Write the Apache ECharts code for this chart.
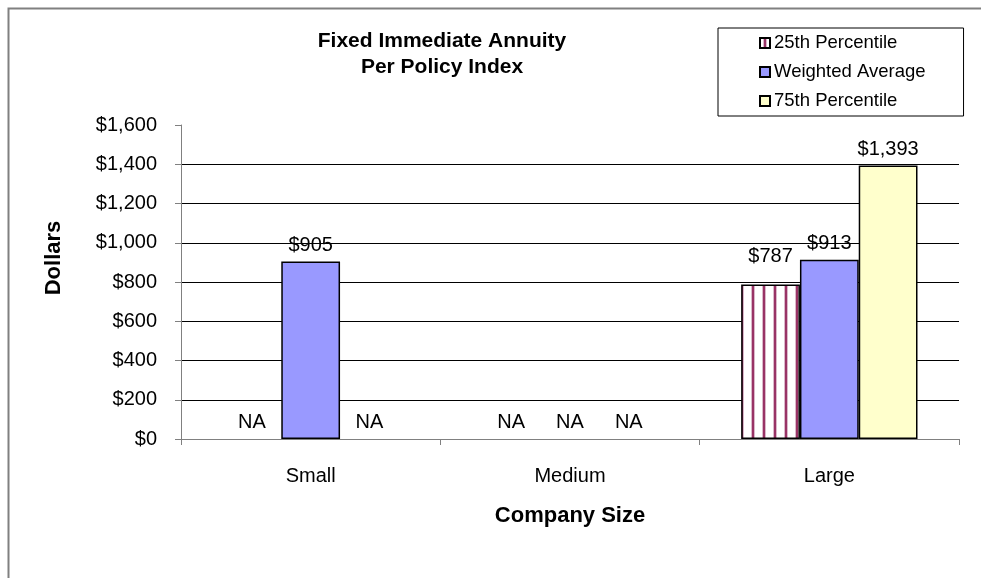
<!DOCTYPE html>
<html>
<head>
<meta charset="utf-8">
<script src="https://cdn.jsdelivr.net/npm/echarts@6/dist/echarts.min.js"></script>
<style>
html,body{margin:0;padding:0;background:#fff;}
#c{width:981px;height:578px;}
</style>
</head>
<body>
<div id="c"></div>
<script>
const categories = ['Small', 'Medium', 'Large'];
const p25 = [null, null, 787];
const weightedAvg = [905, null, 913];
const p75 = [null, null, 1393];
const seriesNames = ['25th Percentile', 'Weighted Average', '75th Percentile'];
const yTicks = { min: 0, max: 1600, interval: 200 };

function stripePattern() {
  const cv = document.createElement('canvas');
  cv.width = 11; cv.height = 8;
  const ctx = cv.getContext('2d');
  ctx.fillStyle = '#ffffff';
  ctx.fillRect(0, 0, 11, 8);
  ctx.fillStyle = 'rgba(153,51,102,0.35)';
  ctx.fillRect(3, 0, 4, 8);
  ctx.fillStyle = '#993366';
  ctx.fillRect(4, 0, 2, 8);
  return { image: cv, repeat: 'repeat' };
}

function money(v) {
  return '$' + v.toLocaleString('en-US');
}

function buildData(arr) {
  return arr.map(v => v === null
    ? { value: 0, itemStyle: { borderWidth: 0, color: 'rgba(0,0,0,0)' }, label: { formatter: 'NA', distance: 7 } }
    : v);
}

const FONT = 'Liberation Sans, Arial, sans-serif';
const fills = [stripePattern(), '#9999FF', '#FFFFCC'];
const labelDistances = [18, 6, 6];
const values = [p25, weightedAvg, p75];

const chart = echarts.init(document.getElementById('c'), null, { renderer: 'canvas' });
chart.setOption({
  animation: false,
  backgroundColor: '#fff',
  textStyle: { fontFamily: FONT },
  graphic: [{
    type: 'rect', left: 6, top: 6, silent: true,
    shape: { width: 1000, height: 600 },
    style: { fill: 'none', stroke: '#808080', lineWidth: 2 }
  }],
  title: {
    text: 'Fixed Immediate Annuity\nPer Policy Index',
    left: 437, top: 23, textAlign: 'center',
    textStyle: { fontSize: 21, fontWeight: 'bold', color: '#000', lineHeight: 26, fontFamily: FONT }
  },
  legend: {
    orient: 'vertical',
    left: 718, top: 28,
    padding: [4, 38, 4, 41],
    borderColor: '#000', borderWidth: 1,
    itemWidth: 10, itemHeight: 10, itemGap: 7,
    icon: 'rect',
    textStyle: { fontSize: 18.5, color: '#000', lineHeight: 22, padding: [0, 0, 0, -1], fontFamily: FONT },
    data: seriesNames
  },
  grid: { left: 181, right: 22, top: 125, bottom: 139 },
  xAxis: {
    type: 'category',
    data: categories,
    name: 'Company Size',
    nameLocation: 'middle',
    nameGap: 66,
    nameTextStyle: { fontSize: 22, fontWeight: 'bold', color: '#000', fontFamily: FONT },
    axisLine: { lineStyle: { color: '#808080', width: 1 } },
    axisTick: { show: true, length: 6, lineStyle: { color: '#808080' } },
    axisLabel: { fontSize: 20, color: '#000', margin: 27, fontFamily: FONT }
  },
  yAxis: {
    type: 'value',
    min: yTicks.min, max: yTicks.max, interval: yTicks.interval,
    name: 'Dollars',
    nameLocation: 'middle',
    nameGap: 116,
    nameTextStyle: { fontSize: 22, fontWeight: 'bold', color: '#000', fontFamily: FONT, padding: [0, 0, 0, 48] },
    axisLine: { show: true, lineStyle: { color: '#808080', width: 1 } },
    axisTick: { show: true, length: 6, lineStyle: { color: '#808080' } },
    axisLabel: { fontSize: 20, color: '#000', margin: 24, formatter: v => money(v), fontFamily: FONT },
    splitLine: { show: true, showMaxLine: false, lineStyle: { color: '#000', width: 1 } }
  },
  series: seriesNames.map((name, i) => ({
    name: name,
    type: 'bar',
    data: buildData(values[i]),
    barGap: '0%',
    barCategoryGap: '32%',
    itemStyle: { color: fills[i], borderColor: '#000', borderWidth: 1.5 },
    label: {
      show: true, position: 'top', distance: labelDistances[i],
      fontSize: 20, color: '#000', fontFamily: FONT,
      formatter: p => money(p.value)
    }
  }))
});
</script>
</body>
</html>
